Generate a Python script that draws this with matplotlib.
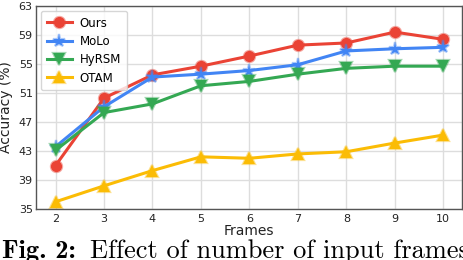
import matplotlib
matplotlib.use("Agg")
import matplotlib.pyplot as plt
from matplotlib.colors import to_rgba

frames = [2, 3, 4, 5, 6, 7, 8, 9, 10]
ours = [41.0, 50.3, 53.5, 54.7, 56.1, 57.6, 57.9, 59.4, 58.4]
molo = [43.6, 49.1, 53.2, 53.6, 54.1, 54.9, 56.8, 57.1, 57.3]
hyrsm = [43.1, 48.3, 49.5, 52.0, 52.6, 53.6, 54.4, 54.7, 54.7]
otam = [36.0, 38.2, 40.3, 42.2, 42.0, 42.6, 42.9, 44.1, 45.2]
yticks = [35, 39, 43, 47, 51, 55, 59, 63]

series = [
    ("Ours", ours, "#EA4335", "o", 8),
    ("MoLo", molo, "#4285F4", "*", 9.5),
    ("HyRSM", hyrsm, "#34A853", "v", 8),
    ("OTAM", otam, "#FBBC05", "^", 8),
]

fig = plt.figure(figsize=(4.64, 2.6), dpi=100)
ax = fig.add_axes([0.078, 0.196, 0.918, 0.781])

for name, vals, c, m, ms in series:
    ax.plot(frames, vals, color=c, lw=2.2, marker=m, markersize=ms,
            markerfacecolor=c, markeredgecolor=to_rgba(c, 0.45),
            markeredgewidth=1.6, label=name)

ax.set_ylim(35, 63)
ax.set_yticks(yticks)
ax.set_xticks(frames)
ax.set_xlim(1.6, 10.39)
ax.grid(True, color="#dddddd", lw=1)
ax.set_axisbelow(True)
for s in ax.spines.values():
    s.set_color("#555555")
    s.set_linewidth(1)
ax.tick_params(axis="y", labelsize=8, length=0, pad=2.5, colors="#222222")
ax.tick_params(axis="x", labelsize=8, length=0, pad=3.5, colors="#222222")
ax.set_ylabel("Accuracy (%)", fontsize=10, labelpad=4, color="#222222")
ax.set_xlabel("Frames", fontsize=10, labelpad=0, color="#222222")
leg = ax.legend(loc="upper left", fontsize=8.5, frameon=True, handlelength=2.1,
                borderpad=0.5, labelspacing=0.45, handletextpad=0.7,
                borderaxespad=0.4)
leg.get_frame().set_edgecolor("#cccccc")

fig.text(0.005, 0.008, "Fig. 2:", fontsize=19, family="cmb10", va="baseline", ha="left")
fig.text(0.193, 0.008, "Effect of number of input frames", fontsize=19,
         family="cmr10", va="baseline", ha="left")

fig.savefig("out.png", dpi=100)
